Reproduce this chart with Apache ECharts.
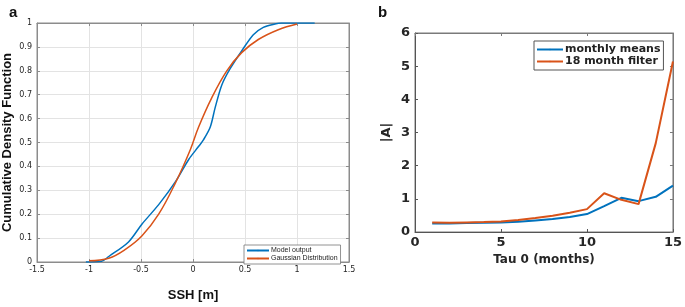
<!DOCTYPE html>
<html>
<head>
<meta charset="utf-8">
<script src="https://cdn.jsdelivr.net/npm/echarts@6/dist/echarts.min.js"></script>
<style>
  html, body { margin: 0; padding: 0; background: #fff; }
  #chart { width: 685px; height: 307px; }
</style>
</head>
<body>
<div id="chart"></div>
<script>
// panel a: CDF of SSH
const modelSsh = [-1.03, -0.88, -0.81, -0.62, -0.49, -0.33, -0.17, -0.04, 0.055, 0.10, 0.166, 0.213, 0.277, 0.357, 0.468, 0.58, 0.676, 0.787, 0.85, 1.17]
const modelCdf = [0, 0.003, 0.023, 0.084, 0.159, 0.24, 0.335, 0.43, 0.484, 0.511, 0.565, 0.646, 0.741, 0.809, 0.883, 0.951, 0.982, 0.996, 1.0, 1.0]
const gaussSsh = [-1.0, -0.81, -0.65, -0.49, -0.33, -0.17, -0.026, 0.054, 0.18, 0.325, 0.468, 0.628, 0.82, 1.0]
const gaussCdf = [0.005, 0.016, 0.053, 0.11, 0.2, 0.33, 0.47, 0.565, 0.687, 0.80, 0.876, 0.931, 0.972, 0.996]

// panel b: |A| vs Tau 0
const tau = [1, 2, 3, 4, 5, 6, 7, 8, 9, 10, 11, 12, 13, 14, 15]
const monthlyMeans = [0.26, 0.26, 0.27, 0.28, 0.29, 0.31, 0.35, 0.39, 0.45, 0.54, 0.78, 1.03, 0.93, 1.06, 1.4]
const filter18 = [0.29, 0.28, 0.29, 0.30, 0.32, 0.36, 0.42, 0.49, 0.58, 0.69, 1.17, 0.97, 0.84, 2.68, 5.14]

const blue = '#0072BD'
const orange = '#D95319'
const zip = (xs, ys) => xs.map((x, i) => [x, ys[i]])

const chart = echarts.init(document.getElementById('chart'))

const tickA = { color: '#262626', fontSize: 8, fontFamily: 'DejaVu Sans' }
const tickB = { color: '#262626', fontSize: 13, fontWeight: 'bold', fontFamily: 'DejaVu Sans' }
const frameA = { onZero: false, lineStyle: { color: '#8c8c8c', width: 1 } }
const frameB = { onZero: false, lineStyle: { color: '#7a7a7a', width: 1 } }

chart.setOption({
  animation: false,
  title: [
    { text: 'a', left: 4, top: 0, textStyle: { fontSize: 15, fontWeight: 'bold', color: '#111', fontFamily: 'Liberation Sans' } },
    { text: 'b', left: 373, top: 0, textStyle: { fontSize: 15, fontWeight: 'bold', color: '#111', fontFamily: 'Liberation Sans' } },
  ],
  grid: [
    { left: 35, top: 23, width: 314, height: 246, show: true, borderColor: '#8c8c8c', borderWidth: 1 },
    { left: 415, top: 33, width: 259, height: 199, show: true, borderColor: '#7a7a7a', borderWidth: 1 },
  ],
  legend: [
    {
      data: ['Model output', 'Gaussian Distribution'],
      orient: 'vertical',
      left: 244, top: 245,
      padding: [2, 3, 2, 2],
      itemGap: 1,
      itemWidth: 22, itemHeight: 2,
      borderColor: '#777', borderWidth: 0.8,
      backgroundColor: '#fff',
      textStyle: { fontSize: 7, color: '#222', fontFamily: 'Liberation Sans', padding: [0, 0, 0, -3] },
    },
    {
      data: ['monthly means', '18 month filter'],
      orient: 'vertical',
      left: 534, top: 41,
      padding: [3, 3, 3, 2],
      itemGap: 1,
      itemWidth: 26, itemHeight: 2,
      borderColor: '#555', borderWidth: 1,
      backgroundColor: '#fff',
      textStyle: { fontSize: 11, fontWeight: 'bold', color: '#222', fontFamily: 'DejaVu Sans', padding: [0, 0, 0, -3] },
    },
  ],
  xAxis: [
    {
      gridIndex: 0, type: 'value', min: -1.5, max: 1.5, interval: 0.5,
      name: 'SSH [m]', nameLocation: 'middle', nameGap: 27,
      nameTextStyle: { fontSize: 13, fontWeight: 'bold', color: '#111', fontFamily: 'Liberation Sans' },
      axisLine: frameA,
      axisTick: { inside: true, length: 3, lineStyle: { color: '#8c8c8c' } },
      axisLabel: { ...tickA, margin: 4 },
      splitLine: { show: true, lineStyle: { color: '#e3e3e3', width: 1 } },
    },
    {
      gridIndex: 0, type: 'value', min: -1.5, max: 1.5, interval: 0.5, position: 'top',
      axisLine: frameA, axisTick: { inside: true, length: 3, lineStyle: { color: '#8c8c8c' } },
      axisLabel: { show: false }, splitLine: { show: false },
    },
    {
      gridIndex: 1, type: 'value', min: 0, max: 15, interval: 5,
      name: 'Tau 0 (months)', nameLocation: 'middle', nameGap: 22,
      nameTextStyle: { fontSize: 12, fontWeight: 'bold', color: '#262626', fontFamily: 'DejaVu Sans' },
      axisLine: { onZero: false, lineStyle: { color: '#555', width: 1 } },
      axisTick: { inside: true, length: 3, lineStyle: { color: '#555' } },
      axisLabel: { ...tickB, margin: 4 },
      splitLine: { show: false },
    },
    {
      gridIndex: 1, type: 'value', min: 0, max: 15, interval: 5, position: 'top',
      axisLine: frameB, axisTick: { inside: true, length: 3, lineStyle: { color: '#7a7a7a' } },
      axisLabel: { show: false }, splitLine: { show: false },
    },
  ],
  yAxis: [
    {
      gridIndex: 0, type: 'value', min: 0, max: 1, interval: 0.1,
      name: 'Cumulative Density Function', nameLocation: 'middle', nameGap: 23,
      nameTextStyle: { fontSize: 13, fontWeight: 'bold', color: '#111', fontFamily: 'Liberation Sans' },
      axisLine: frameA,
      axisTick: { inside: true, length: 3, lineStyle: { color: '#8c8c8c' } },
      axisLabel: { ...tickA, margin: 5, formatter: (v) => String(+v.toFixed(1)) },
      splitLine: { show: true, lineStyle: { color: '#e3e3e3', width: 1 } },
    },
    {
      gridIndex: 0, type: 'value', min: 0, max: 1, interval: 0.1, position: 'right',
      axisLine: frameA, axisTick: { inside: true, length: 3, lineStyle: { color: '#8c8c8c' } },
      axisLabel: { show: false }, splitLine: { show: false },
    },
    {
      gridIndex: 1, type: 'value', min: 0, max: 6, interval: 1,
      name: '|A|', nameLocation: 'middle', nameGap: 22,
      nameTextStyle: { fontSize: 13, fontWeight: 'bold', color: '#262626', fontFamily: 'DejaVu Sans' },
      axisLine: { onZero: false, lineStyle: { color: '#555', width: 1 } },
      axisTick: { inside: true, length: 3, lineStyle: { color: '#555' } },
      axisLabel: { ...tickB, margin: 5 },
      splitLine: { show: false },
    },
    {
      gridIndex: 1, type: 'value', min: 0, max: 6, interval: 1, position: 'right',
      axisLine: frameB, axisTick: { inside: true, length: 3, lineStyle: { color: '#7a7a7a' } },
      axisLabel: { show: false }, splitLine: { show: false },
    },
  ],
  series: [
    {
      name: 'Model output', type: 'line', xAxisIndex: 0, yAxisIndex: 0,
      data: zip(modelSsh, modelCdf), symbol: 'none', smooth: 0.3,
      lineStyle: { color: blue, width: 1.5 }, itemStyle: { color: blue },
    },
    {
      name: 'Gaussian Distribution', type: 'line', xAxisIndex: 0, yAxisIndex: 0,
      data: zip(gaussSsh, gaussCdf), symbol: 'none', smooth: 0.4,
      lineStyle: { color: orange, width: 1.5 }, itemStyle: { color: orange },
    },
    {
      name: 'monthly means', type: 'line', xAxisIndex: 2, yAxisIndex: 2,
      data: zip(tau, monthlyMeans), symbol: 'none',
      lineStyle: { color: blue, width: 2 }, itemStyle: { color: blue },
    },
    {
      name: '18 month filter', type: 'line', xAxisIndex: 2, yAxisIndex: 2,
      data: zip(tau, filter18), symbol: 'none',
      lineStyle: { color: orange, width: 2 }, itemStyle: { color: orange },
    },
  ],
})
</script>
</body>
</html>
